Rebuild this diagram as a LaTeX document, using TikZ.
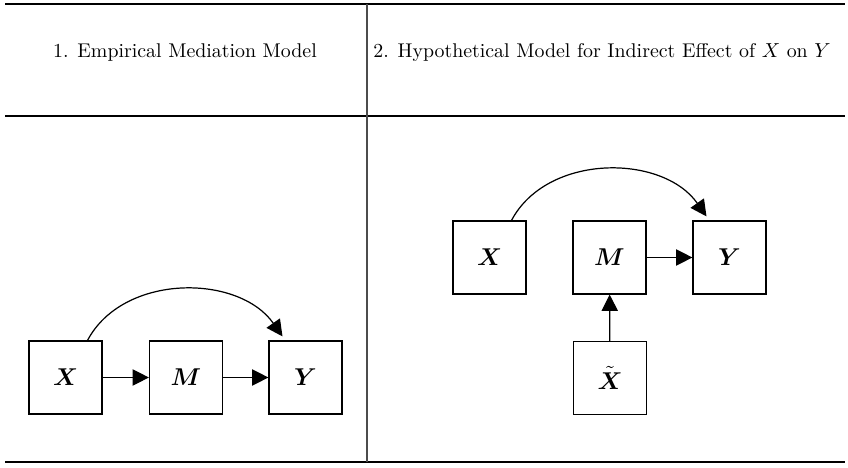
\documentclass[tikz,border=0pt]{standalone}
\usepackage{amsmath}
\usepackage{amssymb}
\usetikzlibrary{arrows.meta}

\begin{document}
\begin{tikzpicture}[
  x=0.01733cm, y=0.01733cm,
  var/.style={rectangle, draw, line width=0.6pt, minimum size=1.265cm,
              inner sep=0pt, font=\fontsize{12.5}{15}\selectfont},
  head/.style={font=\fontsize{9.8}{12}\selectfont},
  tip/.style={-{Triangle[length=8pt,width=8pt]}, line width=0.6pt},
  rule/.style={line width=0.8pt}
]
\useasboundingbox (0,0) rectangle (848,-468);

% table lines
\draw[rule] (5,-4) -- (845,-4);
\draw[rule] (5,-116) -- (845,-116);
\draw[rule] (5,-462) -- (845,-462);
\draw[line width=0.5pt, black!70] (367,-4) -- (367,-462);

\node[head] (h1) at (185,-53) {1. Empirical Mediation Model};
\node[head] (h2) at (602,-53) {2. Hypothetical Model for Indirect Effect of $X$ on $Y$};

% empirical model
\node[var] (lx) at (65.5,-377.5) {$\boldsymbol{X}$};
\node[var] (lm) at (186,-377.5) {$\boldsymbol{M}$};
\node[var] (ly) at (305.5,-377.5) {$\boldsymbol{Y}$};
\draw[tip] (lx) -- (lm);
\draw[tip] (lm) -- (ly);
\draw[tip] ([shift={(22,0)}]lx.north) to[out=62, in=125] ([shift={(-23,4)}]ly.north);

% hypothetical model
\node[var] (rx) at (489.5,-257.5) {$\boldsymbol{X}$};
\node[var] (rm) at (609.5,-257.5) {$\boldsymbol{M}$};
\node[var] (ry) at (729.5,-257.5) {$\boldsymbol{Y}$};
\node[var] (rxt) at (610,-378) {$\tilde{\boldsymbol{X}}$};
\draw[tip] (rm) -- (ry);
\draw[tip] (rxt) -- (rm);
\draw[tip] ([shift={(22,0)}]rx.north) to[out=62, in=125] ([shift={(-23,4)}]ry.north);
\end{tikzpicture}
\end{document}
